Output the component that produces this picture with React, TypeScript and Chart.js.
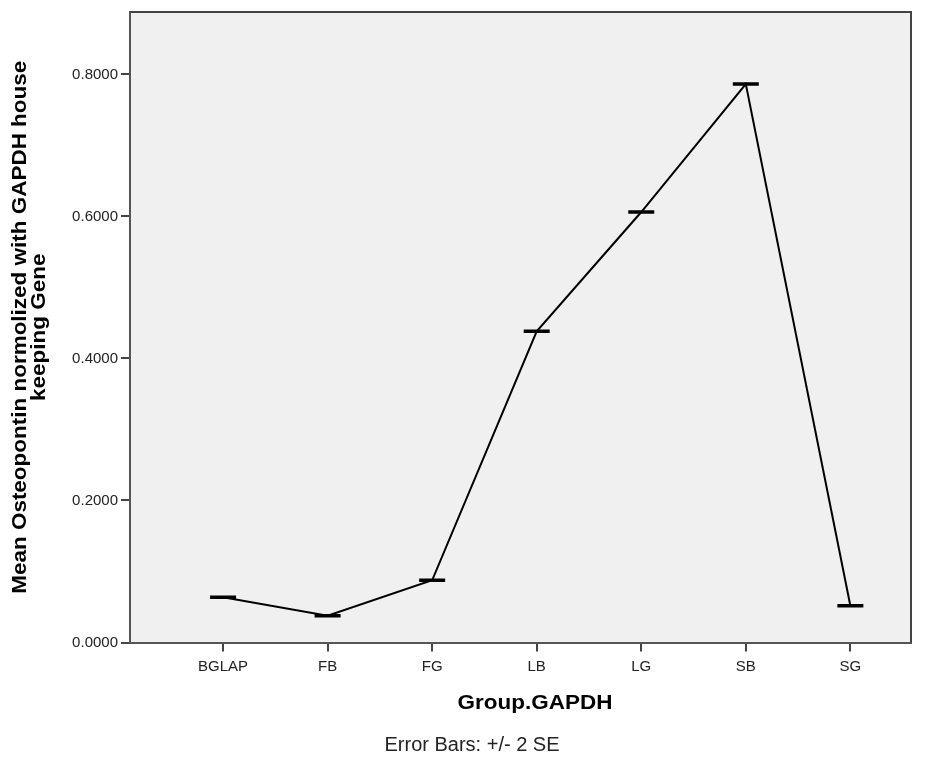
import React, { useEffect, useRef } from "react";
import { Chart, registerables } from "chart.js";

Chart.register(...registerables);

const categories = ["BGLAP", "FB", "FG", "LB", "LG", "SB", "SG"];
const meanValues = [0.0637, 0.0377, 0.0876, 0.4383, 0.6063, 0.7866, 0.0518];
const errorValues = [0.001, 0.001, 0.001, 0.001, 0.001, 0.001, 0.001];
const yTicks = [0, 0.2, 0.4, 0.6, 0.8];

const FONT = "'Liberation Sans', Arial, sans-serif";

const errorBarPlugin = {
  id: "errorBars",
  afterDatasetsDraw(chart: any) {
    const { ctx, scales } = chart;
    const xs = scales.x;
    const ys = scales.y;
    ctx.save();
    ctx.strokeStyle = "#000";
    ctx.lineWidth = 2;
    meanValues.forEach((v, i) => {
      const px = xs.getPixelForValue(i + 1);
      const lo = ys.getPixelForValue(v - errorValues[i]);
      const hi = ys.getPixelForValue(v + errorValues[i]);
      ctx.beginPath();
      ctx.moveTo(px, lo);
      ctx.lineTo(px, hi);
      ctx.moveTo(px - 13, lo);
      ctx.lineTo(px + 13, lo);
      ctx.moveTo(px - 13, hi);
      ctx.lineTo(px + 13, hi);
      ctx.stroke();
    });
    ctx.restore();
  },
};

const framePlugin = {
  id: "frame",
  beforeDraw(chart: any) {
    const { ctx, chartArea: a } = chart;
    ctx.save();
    ctx.fillStyle = "#f0f0f0";
    ctx.fillRect(a.left, a.top, a.right - a.left, a.bottom - a.top);
    ctx.restore();
  },
  afterDraw(chart: any) {
    const { ctx, chartArea: a } = chart;
    ctx.save();
    ctx.strokeStyle = "#444";
    ctx.lineWidth = 2;
    ctx.beginPath();
    ctx.moveTo(a.left, a.top);
    ctx.lineTo(a.right, a.top);
    ctx.lineTo(a.right, a.bottom);
    ctx.stroke();
    // axis titles
    ctx.fillStyle = "#000";
    ctx.font = `bold 21px ${FONT}`;
    ctx.textAlign = "center";
    ctx.textBaseline = "alphabetic";
    ctx.save();
    ctx.translate(535, 709);
    ctx.scale(1.07, 1);
    ctx.fillText("Group.GAPDH", 0, 0);
    ctx.restore();
    ctx.save();
    ctx.translate(0, (a.top + a.bottom) / 2);
    ctx.rotate(-Math.PI / 2);
    ctx.scale(1.07, 1);
    ctx.fillText("Mean Osteopontin normolized with GAPDH house", 0, 26);
    ctx.fillText("keeping Gene", 0, 45);
    ctx.restore();
    ctx.font = `20px ${FONT}`;
    ctx.fillStyle = "#222";
    ctx.fillText("Error Bars: +/- 2 SE", 472, 751);
    ctx.restore();
  },
};

export default function App() {
  const ref = useRef<HTMLCanvasElement>(null);
  useEffect(() => {
    if (!ref.current) return;
    const chart = new Chart(ref.current, {
      type: "line",
      data: {
        datasets: [
          {
            data: meanValues.map((v, i) => ({ x: i + 1, y: v })),
            borderColor: "#000",
            borderWidth: 2,
            pointRadius: 0,
            tension: 0,
          },
        ],
      },
      options: {
        animation: false,
        responsive: false,
        plugins: { legend: { display: false }, tooltip: { enabled: false } },
        layout: { padding: { left: 0, top: 12, right: 20, bottom: 0 } },
        scales: {
          x: {
            type: "linear",
            min: 0.11,
            max: 7.58,
            afterBuildTicks: (s: any) => {
              s.ticks = categories.map((_, i) => ({ value: i + 1 }));
            },
            afterFit: (s: any) => {
              s.height = 116.5;
            },
            ticks: {
              callback: (v: any) => categories[Math.round(v) - 1] ?? "",
              font: { family: FONT, size: 15 },
              color: "#222",
              padding: 6,
              maxRotation: 0,
            },
            grid: { drawOnChartArea: false, tickLength: 9, color: "#444", lineWidth: 2 },
            border: { color: "#555", width: 2 },
          },
          y: {
            type: "linear",
            min: 0,
            max: 0.888,
            afterBuildTicks: (s: any) => {
              s.ticks = yTicks.map((v) => ({ value: v }));
            },
            afterFit: (s: any) => {
              s.width = 130;
            },
            ticks: {
              callback: (v: any) => Number(v).toFixed(4),
              font: { family: FONT, size: 15 },
              color: "#222",
              padding: 3,
            },
            grid: { drawOnChartArea: false, tickLength: 9, color: "#444", lineWidth: 2 },
            border: { color: "#555", width: 2 },
          },
        },
      },
      plugins: [framePlugin, errorBarPlugin],
    });
    return () => chart.destroy();
  }, []);
  return (
    <div style={{ position: "fixed", left: 0, top: 0, width: 931, height: 759, background: "#fff" }}>
      <canvas ref={ref} width={931} height={759} style={{ display: "block", width: 931, height: 759 }} />
    </div>
  );
}
